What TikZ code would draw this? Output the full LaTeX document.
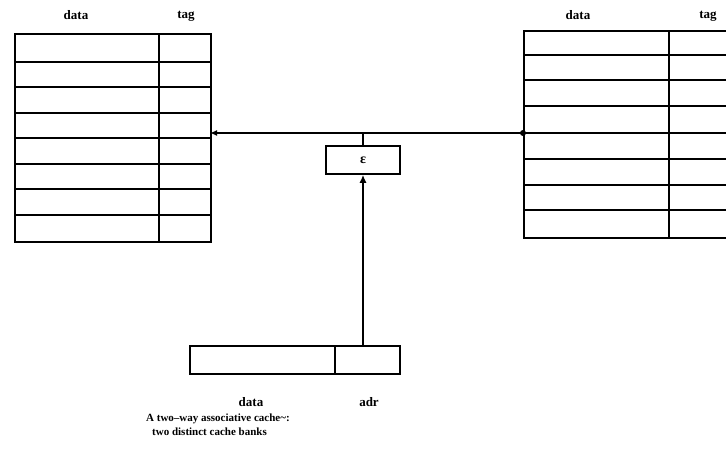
\documentclass[tikz,border=0pt]{standalone}
\usepackage{fontspec}
\setmainfont{Liberation Serif}
\usetikzlibrary{arrows.meta}
\begin{document}
\begin{tikzpicture}[x=1pt,y=-1pt,
  tbl/.style={draw,line width=1.7pt,rectangle,inner sep=0pt,anchor=north west},
  row/.style={line width=1.7pt},
  lbl/.style={font=\bfseries\fontsize{13}{15}\selectfont,inner sep=0pt},
  wire/.style={line width=1.3pt},
  captext/.style={font=\bfseries\fontsize{11}{13}\selectfont,inner sep=0pt,anchor=west}]
\useasboundingbox (0,0) rectangle (726,455);
\clip (0,0) rectangle (726,455);
% left table
\node[tbl,minimum width=196pt,minimum height=208pt] (L) at (14,33) {};
\foreach \yy in {62,87,113,138,164,189,215} \draw[row] (14,\yy) -- (210,\yy);
\draw[row] (159,33) -- (159,241);
\node[lbl] (Ld) at (76,15) {data};
\node[lbl] (Lt) at (186,16) {tag};
% right table
\node[tbl,minimum width=230pt,minimum height=207pt] (R) at (523,30) {};
\foreach \yy in {55,80,106,133,159,185,210} \draw[row] (523,\yy) -- (753,\yy);
\draw[row] (669,30) -- (669,237);
\node[lbl] (Rd) at (578,15) {data};
\node[lbl] (Rt) at (708,16) {tag};
% comparator
\node[draw,line width=1.5pt,minimum width=74pt,minimum height=28pt,inner sep=0pt,font=\bfseries\fontsize{14}{16}\selectfont] (cmp) at (363,160) {ε};
% address register
\node[tbl,line width=1.5pt,minimum width=210pt,minimum height=28pt] (reg) at (189,345) {};
\draw[line width=1.5pt] (335,345) -- (335,373);
\node[lbl] (Bd) at (251,402) {data};
\node[lbl] (Ba) at (369,402) {adr};
% connectors
\coordinate (rj) at (523,133);
\coordinate (la) at (210,133);
\coordinate (cj) at (363,133);
\coordinate (rt) at (363,345);
\draw[wire,-{Latex[length=7pt,width=6pt]}] (rj) -- (la);
\fill (rj) circle (3pt);
\draw[wire] (cmp.north) -- (cj);
\draw[line width=1.7pt,-{Latex[length=8pt,width=7pt]}] (rt) -- (cmp.south);
% caption
\node[captext] (c1) at (146,419) {A two--way associative cache\textasciitilde:};
\node[captext] (c2) at (152,432) {two distinct cache banks};
\end{tikzpicture}
\end{document}
